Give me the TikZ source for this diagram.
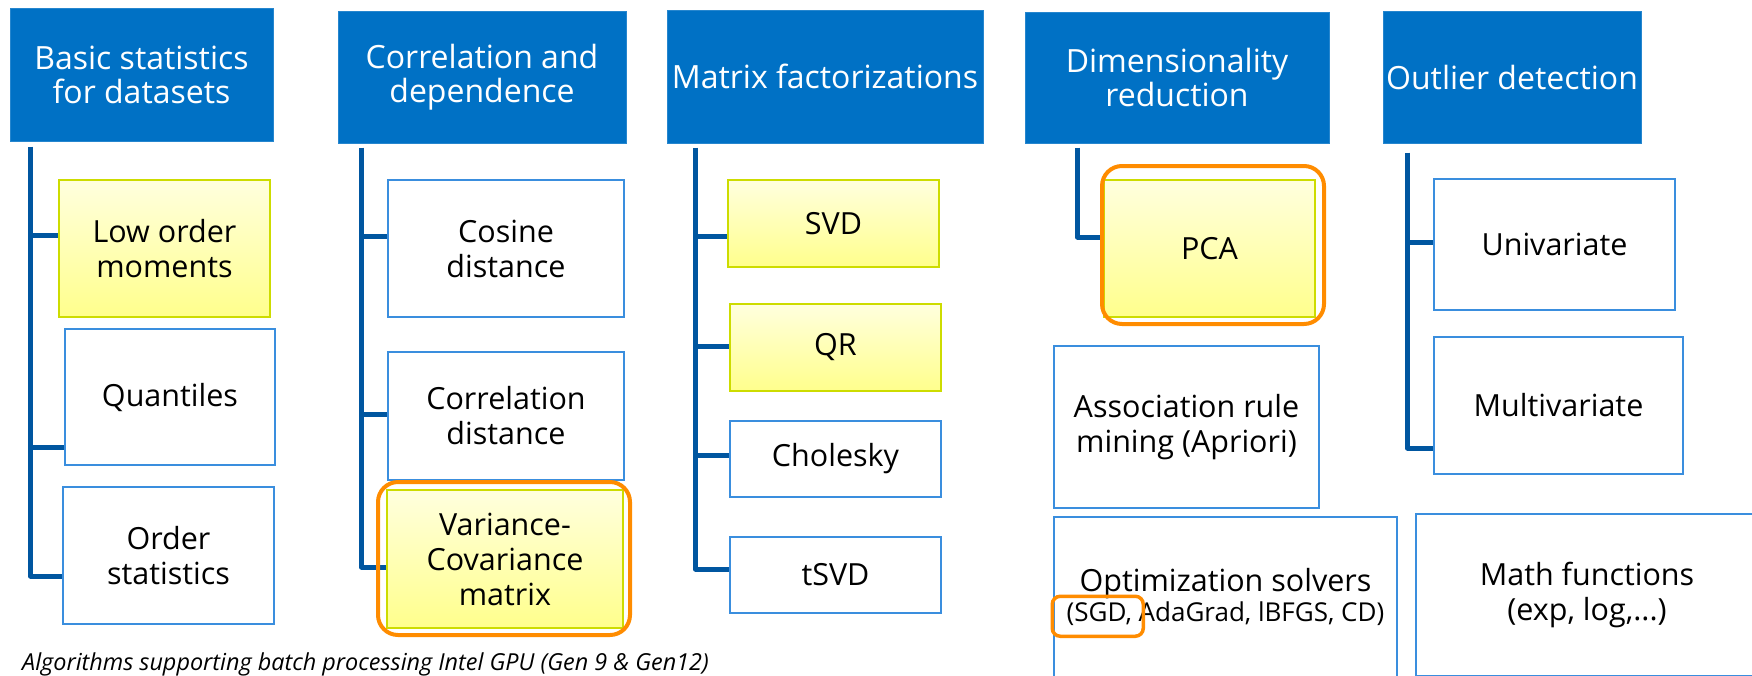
\documentclass[tikz,border=0pt]{standalone}
\usepackage{fontspec}
\setmainfont{Open Sans}
\usetikzlibrary{calc}

\definecolor{hdrblue}{RGB}{0,113,197}
\definecolor{trunkblue}{RGB}{0,86,160}
\definecolor{boxedge}{RGB}{58,142,222}
\definecolor{yedge}{RGB}{205,220,0}
\definecolor{ytop}{RGB}{255,255,222}
\definecolor{ybot}{RGB}{255,255,140}
\definecolor{hilite}{RGB}{255,140,0}

% box from corner (x1,y1) to (x2,y2), y measured downwards
\newcommand\pbox[7]{%
  \node[#1, minimum width={#4-#2}, minimum height={#5-#3}] (#6)
    at ({(#2+#4)/2},{(#3+#5)/2}) {#7};}

\tikzset{
  hdr/.style={fill=hdrblue, draw=hdrblue!85!white, line width=1pt, text=white,
    font=\fontsize{32}{34}\selectfont, align=center, inner sep=0pt},
  item/.style={draw=boxedge, line width=1.5pt, fill=white,
    font=\fontsize{30.5}{35}\selectfont, align=center, inner sep=0pt},
  hot/.style={item, draw=yedge, line width=2pt, top color=ytop, bottom color=ybot},
  ring/.style={draw=hilite, line width=4pt, rounded corners=20pt},
  smallring/.style={draw=hilite, line width=3.5pt, rounded corners=8pt},
  trunk/.style={draw=trunkblue, line width=5pt, line join=round},
}

\begin{document}
\begin{tikzpicture}[x=1pt,y=-1pt]
\useasboundingbox (0,0) rectangle (1752,675);
\clip (0,0) rectangle (1752,675);

% category headers
\pbox{hdr}{10}{8}{273}{141}{h1}{Basic statistics\\for datasets}
\pbox{hdr}{338}{11}{626}{143}{h2}{Correlation and\\dependence}
\pbox{hdr}{667}{10}{983}{143}{h3}{Matrix factorizations}
\pbox{hdr}{1025}{12}{1329}{143}{h4}{Dimensionality\\reduction}
\pbox{hdr}{1383}{11}{1641}{143}{h5}{Outlier detection}

% basic statistics
\pbox{hot}{59}{180}{270}{317}{low}{Low order\\moments}
\pbox{item}{65}{329}{275}{465}{quant}{Quantiles}
\pbox{item}{63}{487}{274}{624}{ostat}{Order\\statistics}

% correlation and dependence
\pbox{item}{388}{180}{624}{317}{cos}{Cosine\\distance}
\pbox{item}{388}{352}{624}{480}{corr}{Correlation\\distance}
\pbox{hot}{387}{490}{623}{628}{var}{Variance-\\Covariance\\matrix}

% matrix factorizations
\pbox{hot}{728}{180}{939}{267}{svd}{SVD}
\pbox{hot}{730}{304}{941}{391}{qr}{QR}
\pbox{item}{730}{421}{941}{497}{chol}{Cholesky}
\pbox{item}{730}{537}{941}{613}{tsvd}{tSVD}

% dimensionality reduction and others
\pbox{hot}{1104}{180}{1315}{317}{pca}{PCA}
\pbox{item}{1054}{346}{1319}{508}{assoc}{Association rule\\mining (Apriori)}
\pbox{item}{1054}{517}{1397}{677}{optim}{Optimization solvers\\[-5pt]{\fontsize{26}{28}\selectfont (SGD, AdaGrad, lBFGS, CD)}}

% outlier detection
\pbox{item}{1434}{179}{1675}{310}{univ}{Univariate}
\pbox{item}{1434}{337}{1683}{474}{multi}{Multivariate}
\pbox{item}{1416}{514}{1758}{676}{mathf}{Math functions\\(exp, log,...)}

% trunk tops
\coordinate (t1) at ([xshift=21pt,yshift=-5pt]h1.south west);
\coordinate (t2) at ([xshift=24pt,yshift=-4pt]h2.south west);
\coordinate (t3) at ([xshift=29pt,yshift=-4pt]h3.south west);
\coordinate (t4) at ([xshift=53pt,yshift=-4pt]h4.south west);
\coordinate (t5) at ([xshift=25pt,yshift=-9pt]h5.south west);

% stub end points
\coordinate (s11) at ([yshift=13.5pt]low.west);
\coordinate (s12) at ([yshift=-50pt]quant.west);
\coordinate (s13) at ([yshift=-20.5pt]ostat.west);
\coordinate (s21) at ([yshift=12.5pt]cos.west);
\coordinate (s22) at ([yshift=2pt]corr.west);
\coordinate (s23) at ([yshift=-8pt]var.west);
\coordinate (s31) at ([yshift=-12.5pt]svd.west);
\coordinate (s32) at ([yshift=1.5pt]qr.west);
\coordinate (s33) at ([yshift=4pt]chol.west);
\coordinate (s34) at ([yshift=6pt]tsvd.west);
\coordinate (s41) at ([yshift=11.5pt]pca.west);
\coordinate (s51) at ([yshift=2.5pt]univ.west);
\coordinate (s52) at ([yshift=-42.5pt]multi.west);

% connectors
\draw[trunk] (t1) |- (s13);
\draw[trunk] (t1 |- s11) -- (s11);
\draw[trunk] (t1 |- s12) -- (s12);

\draw[trunk] (t2) |- (s23);
\draw[trunk] (t2 |- s21) -- (s21);
\draw[trunk] (t2 |- s22) -- (s22);

\draw[trunk] (t3) |- (s34);
\draw[trunk] (t3 |- s31) -- (s31);
\draw[trunk] (t3 |- s32) -- (s32);
\draw[trunk] (t3 |- s33) -- (s33);

\draw[trunk] (t4) |- (s41);

\draw[trunk] (t5) |- (s52);
\draw[trunk] (t5 |- s51) -- (s51);

% highlights
\draw[ring] ([shift={(-8pt,7pt)}]var.north west) rectangle ([shift={(6pt,-6pt)}]var.south east);
\draw[ring] ([shift={(-1pt,13pt)}]pca.north west) rectangle ([shift={(8pt,-6pt)}]pca.south east);
\draw[smallring] ([shift={(-1pt,-80pt)}]optim.north west) rectangle ([shift={(90pt,-120pt)}]optim.north west);

% caption
\node[anchor=base west, inner sep=0pt, font=\itshape\fontsize{23.4}{26}\selectfont] (cap) at (22,670)
  {Algorithms supporting batch processing Intel GPU (Gen 9 \& Gen12)};
\end{tikzpicture}
\end{document}
